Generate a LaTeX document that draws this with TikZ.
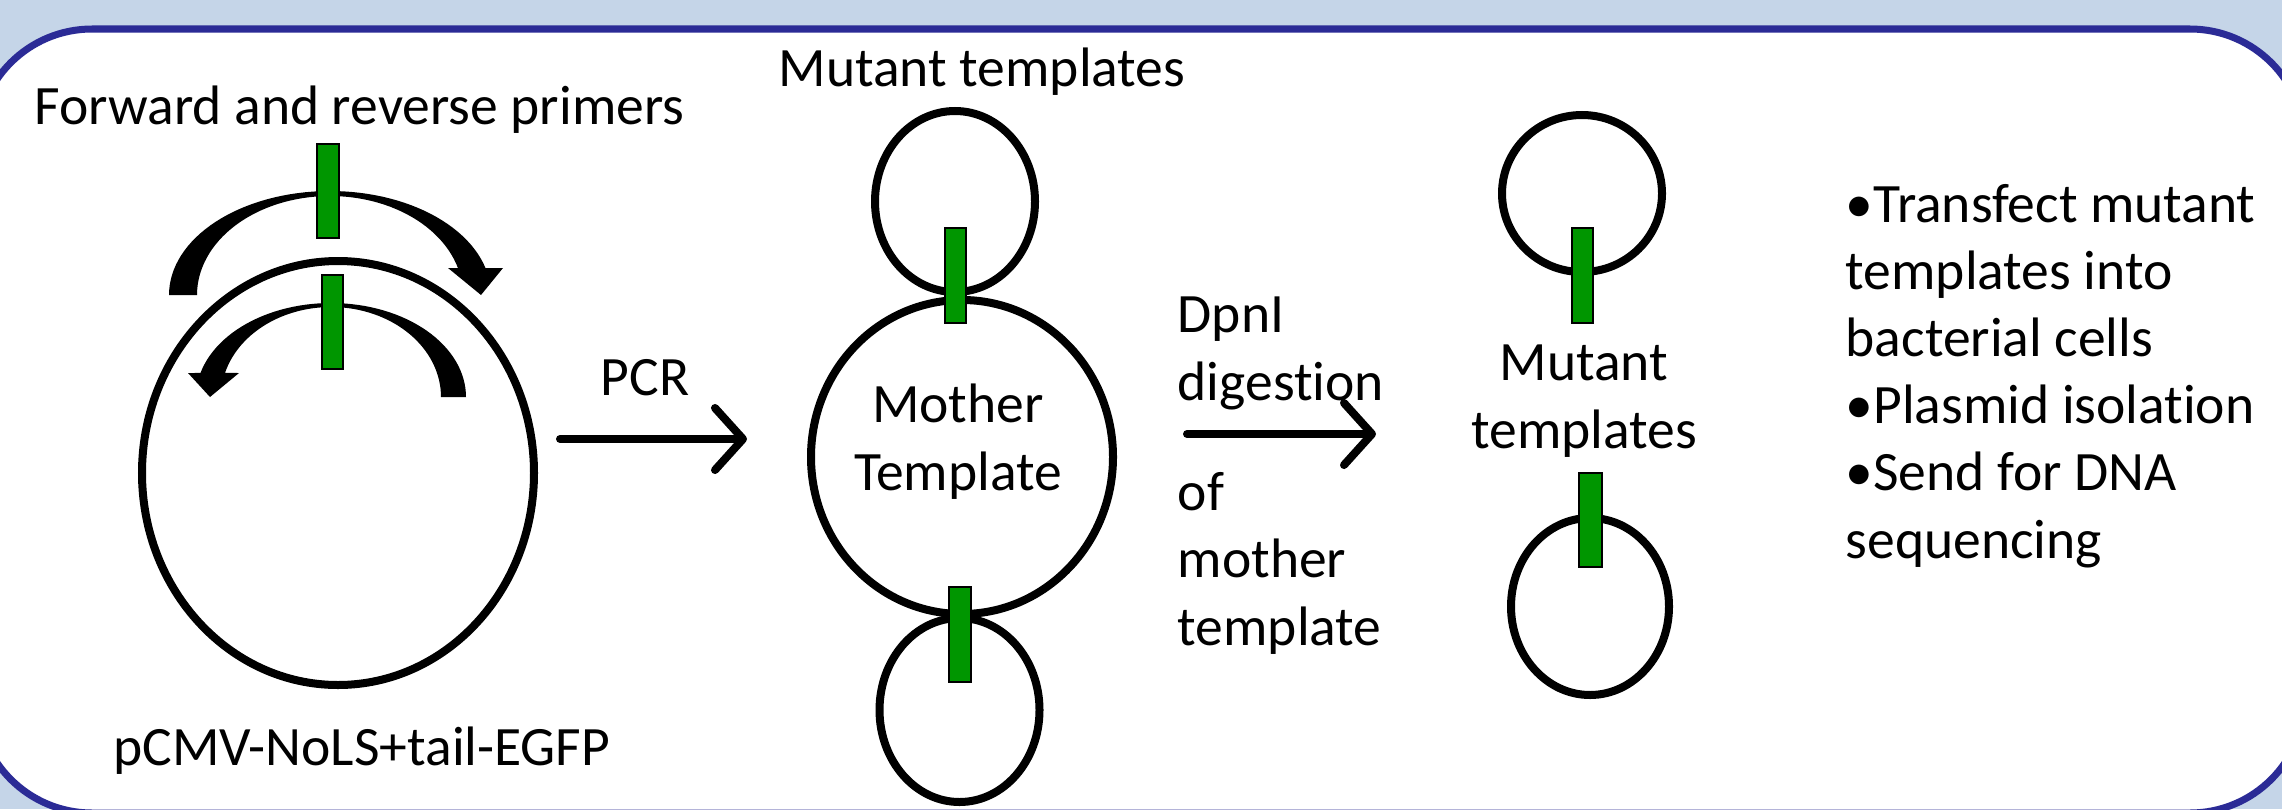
\documentclass[tikz,border=0pt]{standalone}
\usepackage{fontspec}
\setmainfont[Ligatures=NoCommon]{Carlito}
\usetikzlibrary{arrows.meta}
\definecolor{bgblue}{RGB}{197,213,232}
\definecolor{framebl}{RGB}{43,43,150}
\definecolor{primergreen}{RGB}{0,150,0}
\newcommand\slidefont{\fontsize{15.8pt}{19.1pt}\selectfont}
\begin{document}
\begin{tikzpicture}[x=0.01cm,y=-0.01cm,
  lbl/.style={inner sep=0pt, font=\slidefont},
  plasmid/.style={draw=black, line width=0.08cm},
  primer/.style={draw=black, fill=primergreen, line width=0.6pt},
  bentarrow/.style={fill=black},
  steparrow/.style={draw=black, line width=0.08cm, line cap=round,
    -{Straight Barb[length=0.28cm,width=0.62cm,line cap=round,line join=round]}},
  frame/.style={draw=framebl, line width=0.07cm, fill=white, rounded corners=1.15cm}
]
\useasboundingbox (0,0) rectangle (2282,809);
\fill[bgblue] (0,0) rectangle (2282,809);
\begin{scope}
  \clip (0,0) rectangle (2282,809);
  \draw[frame] (-23,29) rectangle (2305,813);
\end{scope}

% left plasmid with primers
\draw[plasmid] (338,473) ellipse [x radius=196, y radius=212];
\fill[bentarrow] plot[domain=180:15.05, samples=60] ({330+161*cos(\x)},{295-104*sin(\x)})
  -- (503,268) -- (481,295) -- (448,268)
  -- plot[domain=15.83:180, samples=60] ({330+133*cos(\x)},{295-99*sin(\x)}) -- cycle;
\fill[bentarrow] plot[domain=0:165.2, samples=60] ({331+135*cos(\x)},{397-94*sin(\x)})
  -- (188,373) -- (210,397) -- (239,373)
  -- plot[domain=164.5:0, samples=60] ({331+110*cos(\x)},{397-90*sin(\x)}) -- cycle;
\draw[primer] (317,144) rectangle (339,238);
\draw[primer] (322,275) rectangle (343,369);

% middle: mother template with mutant templates
\draw[plasmid] (962,457) ellipse [x radius=151, y radius=157];
\draw[plasmid] (955,201.5) ellipse [x radius=80, y radius=90.5];
\draw[plasmid] (959.5,710) ellipse [x radius=80, y radius=92];
\draw[primer] (945,228) rectangle (966,323);
\draw[primer] (949,587) rectangle (971,682);

% right: mutant templates
\draw[plasmid] (1582,193.5) ellipse [x radius=80, y radius=78.5];
\draw[primer] (1572,228) rectangle (1593,323);
\draw[plasmid] (1590,606.5) ellipse [x radius=79, y radius=88.5];
\draw[primer] (1579,473) rectangle (1602,567);

% step arrows
\coordinate (pcrS) at (560,439);
\coordinate (pcrE) at (747,439);
\draw[steparrow] (pcrS) -- (pcrE);
\coordinate (dpnS) at (1187,434);
\coordinate (dpnE) at (1376,434);
\draw[steparrow] (dpnS) -- (dpnE);

% labels (multi-line nodes: base anchor = last line)
\node[lbl, anchor=base west] (fwdlbl) at (34,124) {Forward and reverse primers};
\node[lbl, anchor=base west] (plasmidlbl) at (113,765) {pCMV-NoLS+tail-EGFP};
\node[lbl, anchor=base] (pcrlbl) at (645,395) {PCR};
\node[lbl, anchor=base] (mutlbl) at (982,87) {Mutant templates};
\node[lbl, anchor=base, align=center] (motherlbl) at (958,490) {Mother\\Template};
\node[lbl, anchor=base west, align=left] (dpnlbl) at (1177,400) {DpnI\\digestion};
\node[lbl, anchor=base west, align=left] (oflbl) at (1177,645) {of\\mother\\template};
\node[lbl, anchor=base, align=center] (mut2lbl) at (1584,448) {Mutant\\templates};
\node[lbl, anchor=base west, align=left] (steps) at (1845,558) {\textbullet Transfect mutant\\templates into\\bacterial cells\\\textbullet Plasmid isolation\\\textbullet Send for DNA\\sequencing};
\end{tikzpicture}
\end{document}
